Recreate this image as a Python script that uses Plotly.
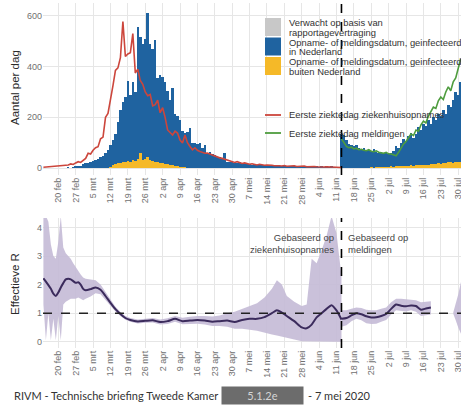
import pandas as pd
import plotly.graph_objects as go

# ---------------- data ----------------
tick_dates = ["2020-02-20", "2020-02-27", "2020-03-05", "2020-03-12", "2020-03-19", "2020-03-26",
              "2020-04-02", "2020-04-09", "2020-04-16", "2020-04-23", "2020-04-30", "2020-05-07",
              "2020-05-14", "2020-05-21", "2020-05-28", "2020-06-04", "2020-06-11", "2020-06-18",
              "2020-06-25", "2020-07-02", "2020-07-09", "2020-07-16", "2020-07-23", "2020-07-30"]
tick_labels = ["20 feb", "27 feb", "5 mrt", "12 mrt", "19 mrt", "26 mrt", "2 apr", "9 apr", "16 apr",
               "23 apr", "30 apr", "7 mei", "14 mei", "21 mei", "28 mei", "4 jun", "11 jun", "18 jun",
               "25 jun", "2 jul", "9 jul", "16 jul", "23 jul", "30 jul"]

split_date = "2020-06-13"
r_reference = 1

# daily bars, starting 24 feb
bar_start = "2020-02-24"
blue_feb = [2, 0, 3, 5, 4, 8]
blue_mrt = [15, 18, 20, 22, 28, 32, 35, 42, 48, 60, 70, 85, 100, 121, 162, 210, 238, 255, 317, 265,
            310, 272, 520, 457, 460, 475, 565, 458, 442, 480, 333]
blue_apr = [345, 342, 325, 291, 258, 305, 207, 199, 185, 141, 137, 140, 156, 99, 98, 95, 100, 80, 90, 60,
            62, 55, 52, 45, 42, 40, 58, 25, 24, 22]
blue_mei = [20, 18, 22, 16, 15, 18, 14, 12, 15, 11, 13, 10, 12, 9, 10, 8, 11, 8, 9, 7, 8, 6, 9, 6, 7, 5,
            6, 5, 7, 4, 5]
blue_jun = [4, 5, 4, 3, 5, 3, 4, 3, 4, 3, 3, 3, 135, 130, 110, 95, 90, 85, 92, 80, 75, 77, 70, 68, 65,
            72, 59, 56, 61, 54]
blue_jul = [57, 52, 54, 61, 78, 74, 92, 108, 96, 117, 130, 109, 124, 150, 138, 164, 152, 178, 160, 186,
            174, 197, 190, 210, 197, 228, 215, 250, 276, 268, 315]

yellow_feb = [0, 0, 0, 0, 0, 0]
yellow_mrt = [0, 0, 0, 0, 0, 0, 0, 0, 0, 0, 0, 5, 10, 14, 18, 20, 22, 25, 28, 25, 30, 28, 35, 58, 30,
              35, 45, 32, 28, 25, 22]
yellow_apr = [20, 18, 15, 14, 12, 10, 8, 6, 5, 4, 3, 2, 2, 1, 0, 0, 0, 0, 0, 0, 0, 0, 0, 0, 0, 0, 0,
              0, 0, 0]
yellow_mei = [0] * 31
yellow_jun = [0] * 21 + [1, 2, 2, 3, 2, 3, 4, 3, 4]
yellow_jul = [5, 4, 6, 5, 7, 6, 8, 7, 9, 8, 10, 9, 11, 10, 12, 11, 13, 12, 15, 14, 16, 18, 15, 20, 18,
              22, 25, 20, 24, 22, 25]

# first day of illness, hospital admissions (from 14 feb)
red_start = "2020-02-14"
red_feb = [3, 4, 5, 4, 6, 5, 7, 9, 8, 10, 12, 16, 14, 20, 25, 22]
red_mrt = [32, 38, 58, 55, 70, 80, 84, 115, 122, 200, 215, 265, 325, 385, 395, 435, 578, 440, 450, 455,
           530, 375, 390, 345, 330, 300, 285, 290, 245, 250, 268]
red_apr = [218, 238, 200, 150, 140, 130, 145, 138, 110, 99, 130, 100, 85, 72, 80, 70, 65, 62, 58, 59,
           55, 50, 48, 42, 40, 38, 35, 30, 28, 24]
red_mei = [22, 25, 20, 18, 20, 16, 15, 17, 14, 12, 15, 13, 11, 12, 10, 11, 9, 10, 9, 8, 10, 7, 8, 7, 9,
           6, 7, 6, 8, 5, 6]
red_jun = [5, 6, 5, 4, 5, 4, 5, 4, 3, 4, 3, 3, 2]

# first day of illness, notifications (from 13 jun)
green_start = "2020-06-13"
green_jun = [115, 100, 85, 80, 82, 75, 78, 72, 74, 70, 68, 72, 66, 64, 68, 62, 60, 58]
green_jul = [62, 56, 55, 50, 48, 62, 80, 95, 105, 120, 135, 128, 150, 145, 170, 185, 178, 205, 220, 240,
             235, 265, 280, 270, 300, 320, 305, 340, 355, 390, 430]

# effective R, based on hospital admissions
r1_dates = ["2020-02-14", "2020-02-15", "2020-02-16", "2020-02-17", "2020-02-18", "2020-02-19",
            "2020-02-20", "2020-02-21", "2020-02-22", "2020-02-23", "2020-02-24", "2020-02-25",
            "2020-02-26", "2020-02-27", "2020-02-28", "2020-02-29", "2020-03-01", "2020-03-02",
            "2020-03-04", "2020-03-06", "2020-03-08", "2020-03-10", "2020-03-12", "2020-03-14",
            "2020-03-16", "2020-03-18", "2020-03-20", "2020-03-23", "2020-03-26", "2020-03-29",
            "2020-04-01", "2020-04-04", "2020-04-07", "2020-04-10", "2020-04-13", "2020-04-16",
            "2020-04-19", "2020-04-22", "2020-04-25", "2020-04-28", "2020-05-01", "2020-05-04",
            "2020-05-07", "2020-05-10", "2020-05-13", "2020-05-16", "2020-05-18", "2020-05-20",
            "2020-05-22", "2020-05-25", "2020-05-28", "2020-05-30", "2020-06-01", "2020-06-03",
            "2020-06-05", "2020-06-07", "2020-06-09", "2020-06-11", "2020-06-13"]
r1_med = [2.22, 2.1, 1.98, 1.85, 1.68, 1.6, 1.72, 1.9, 2.05, 2.18, 2.2, 2.18, 2.12, 2.06, 2.08, 2.0,
          1.85, 1.8, 1.84, 1.9, 1.82, 1.6, 1.36, 1.14, 0.97, 0.83, 0.76, 0.71, 0.73, 0.75, 0.69, 0.72,
          0.8, 0.72, 0.74, 0.76, 0.74, 0.7, 0.72, 0.74, 0.69, 0.76, 0.8, 0.8, 0.86, 1.0, 1.1, 1.02, 0.9,
          0.72, 0.5, 0.47, 0.6, 0.85, 1.0, 1.15, 1.28, 1.1, 0.78]
r1_lo = [1.3, 0.05, 1.0, 0.05, 0.8, 0.05, 0.9, 0.05, 1.3, 1.4, 1.45, 1.5, 1.5, 1.5, 1.55, 1.5, 1.45,
         1.5, 1.58, 1.7, 1.66, 1.48, 1.26, 1.06, 0.9, 0.77, 0.7, 0.64, 0.66, 0.67, 0.6, 0.62, 0.7, 0.61,
         0.62, 0.63, 0.6, 0.55, 0.55, 0.52, 0.45, 0.45, 0.42, 0.38, 0.32, 0.25, 0.22, 0.18, 0.15, 0.08,
         0.02, 0.0, 0.0, 0.0, 0.0, 0.0, 0.0, 0.0, 0.0]
r1_hi = [4.4, 4.4, 4.2, 3.4, 3.0, 2.9, 3.5, 4.4, 3.3, 3.1, 3.0, 2.9, 2.75, 2.6, 2.5, 2.35, 2.25, 2.2,
         2.18, 2.15, 2.0, 1.74, 1.46, 1.22, 1.04, 0.9, 0.83, 0.78, 0.8, 0.83, 0.78, 0.82, 0.9, 0.84,
         0.87, 0.9, 0.9, 0.88, 0.92, 1.0, 1.05, 1.15, 1.25, 1.35, 1.55, 1.85, 2.15, 2.0, 1.6, 1.4, 1.25,
         1.3, 2.9, 2.75, 3.2, 3.7, 4.4, 3.8, 2.3]

# effective R, based on notifications
r2_dates = ["2020-06-13", "2020-06-15", "2020-06-17", "2020-06-19", "2020-06-21", "2020-06-23",
            "2020-06-25", "2020-06-27", "2020-06-29", "2020-07-01", "2020-07-03", "2020-07-05",
            "2020-07-07", "2020-07-09", "2020-07-11", "2020-07-13", "2020-07-15", "2020-07-17",
            "2020-07-19"]
r2_med = [0.8, 0.83, 0.92, 1.0, 0.96, 0.89, 0.85, 0.86, 0.9, 0.97, 1.15, 1.3, 1.26, 1.24, 1.27, 1.25,
          1.12, 1.16, 1.2]
r2_lo = [0.52, 0.58, 0.72, 0.8, 0.75, 0.65, 0.62, 0.63, 0.7, 0.76, 0.95, 1.1, 1.08, 1.06, 1.1, 1.05,
         0.9, 0.92, 0.95]
r2_hi = [1.1, 1.1, 1.15, 1.2, 1.18, 1.12, 1.1, 1.1, 1.15, 1.2, 1.38, 1.5, 1.5, 1.48, 1.48, 1.45, 1.38,
         1.4, 1.42]

# uncertainty band at the end of the period
r3_dates = ["2020-07-28", "2020-07-29", "2020-07-30", "2020-07-31", "2020-08-01"]
r3_lo = [0.98, 0.75, 0.5, 0.28, 0.1]
r3_hi = [1.02, 1.3, 1.65, 2.05, 2.4]

legend_box_labels = [["Verwacht op basis van", "rapportagevertraging"],
                     ["Opname- of meldingsdatum, geinfecteerd", "in Nederland"],
                     ["Opname- of meldingsdatum, geinfecteerd", "buiten Nederland"]]
legend_line_labels = ["Eerste ziektedag ziekenhuisopnames", "Eerste ziektedag meldingen"]

# ---------------- styling ----------------
W, H = 461, 405
FONT = "Liberation Sans, Arial, sans-serif"
BLUE = "#1f63a0"
YELLOW = "#f5b928"
GREY = "#c8c8c8"
RED = "#cc463c"
GREEN = "#4e9c3e"
BAND = "rgba(198,188,215,0.92)"
RLINE = "#3b2b5c"
GRID = "#e6e6e6"
TICK = "#707070"


def px(v):
    return v / W


def py(v):
    return 1 - v / H


blue = blue_feb + blue_mrt + blue_apr + blue_mei + blue_jun + blue_jul
yellow = yellow_feb + yellow_mrt + yellow_apr + yellow_mei + yellow_jun + yellow_jul
bar_dates = pd.date_range(bar_start, periods=len(blue))
red = red_feb + red_mrt + red_apr + red_mei + red_jun
red_dates = pd.date_range(red_start, periods=len(red))
green = green_jun + green_jul
green_dates = pd.date_range(green_start, periods=len(green))

DAY_MS = 86400000

fig = go.Figure()
fig.add_trace(go.Bar(x=bar_dates, y=yellow, width=DAY_MS, marker=dict(color=YELLOW, line=dict(width=0)),
                     name="buiten Nederland", showlegend=False, xaxis="x", yaxis="y"))
fig.add_trace(go.Bar(x=bar_dates, y=blue, width=DAY_MS, marker=dict(color=BLUE, line=dict(width=0)),
                     name="in Nederland", showlegend=False, xaxis="x", yaxis="y"))
fig.add_trace(go.Scatter(x=red_dates, y=red, mode="lines", line=dict(color=RED, width=1.6),
                         name=legend_line_labels[0], showlegend=False, xaxis="x", yaxis="y"))
fig.add_trace(go.Scatter(x=green_dates, y=green, mode="lines", line=dict(color=GREEN, width=1.6),
                         name=legend_line_labels[1], showlegend=False, xaxis="x", yaxis="y"))

# R panel bands
for d, lo, hi in [(r1_dates, r1_lo, r1_hi), (r2_dates, r2_lo, r2_hi), (r3_dates, r3_lo, r3_hi)]:
    fig.add_trace(go.Scatter(x=list(d) + list(d)[::-1], y=list(hi) + list(lo)[::-1], fill="toself",
                             fillcolor=BAND, line=dict(width=0), mode="lines", showlegend=False,
                             hoverinfo="skip", xaxis="x2", yaxis="y2"))
for d, m in [(r1_dates, r1_med), (r2_dates, r2_med)]:
    fig.add_trace(go.Scatter(x=d, y=m, mode="lines",
                             line=dict(color=RLINE, width=2, shape="spline", smoothing=0.6),
                             showlegend=False, xaxis="x2", yaxis="y2"))

xrange = ["2020-02-13 20:00", "2020-07-31 03:00"]
xcommon = dict(range=xrange, tickmode="array", tickvals=tick_dates, ticktext=tick_labels, tickangle=-90,
               tickfont=dict(size=9, color=TICK, family=FONT), showgrid=True, gridcolor=GRID, gridwidth=1,
               zeroline=False, showline=False, ticks="", domain=[px(43), 1.0], automargin=False,
               ticklabeloverflow="allow")

fig.update_layout(
    width=W, height=H, margin=dict(l=0, r=0, t=0, b=0),
    paper_bgcolor="white", plot_bgcolor="white",
    barmode="stack", bargap=0, showlegend=False,
    font=dict(family=FONT, color="#333"),
    xaxis=dict(**xcommon, anchor="y"),
    xaxis2=dict(**xcommon, anchor="y2"),
    yaxis=dict(domain=[py(175), py(3)], range=[-27.6, 651], tickvals=[0, 200, 400, 600],
               tickfont=dict(size=9, color=TICK), showgrid=True, gridcolor=GRID, zeroline=False,
               ticks="", automargin=False, anchor="x"),
    yaxis2=dict(domain=[py(348), py(218)], range=[-0.22, 4.33], tickvals=[0, 1, 2, 3, 4],
                tickfont=dict(size=9, color=TICK), showgrid=True, gridcolor=GRID, zeroline=False,
                ticks="", automargin=False, anchor="x2"),
)

# split lines and R = 1 reference
fig.add_shape(type="line", xref="x", yref="y domain", x0=split_date, x1=split_date, y0=0, y1=1,
              line=dict(color="black", width=1.6, dash="dash"))
fig.add_shape(type="line", xref="x2", yref="y2 domain", x0=split_date, x1=split_date, y0=0, y1=1,
              line=dict(color="black", width=1.6, dash="dash"))
fig.add_shape(type="line", xref="x2 domain", yref="y2", x0=0, x1=1, y0=r_reference, y1=r_reference,
              line=dict(color="#222", width=1.5, dash="dash"))

# legend (drawn as keys + text)
box_colors = [GREY, BLUE, YELLOW]
for i, (lines, col) in enumerate(zip(legend_box_labels, box_colors)):
    top = 18 + i * 19.5
    fig.add_shape(type="rect", xref="paper", yref="paper", x0=px(265), x1=px(281), y0=py(top + 18),
                  y1=py(top), fillcolor=col, line=dict(width=0), layer="above")
    for j, t in enumerate(lines):
        fig.add_annotation(text=t, xref="paper", yref="paper", x=px(287), y=py(top + 4.5 + j * 9.7),
                           xanchor="left", yanchor="middle", showarrow=False,
                           font=dict(size=9.4, color="#333", family=FONT))
for i, (t, col) in enumerate(zip(legend_line_labels, [RED, GREEN])):
    yy = 115 + i * 18
    fig.add_shape(type="line", xref="paper", yref="paper", x0=px(265), x1=px(281), y0=py(yy), y1=py(yy),
                  line=dict(color=col, width=1.8), layer="above")
    fig.add_annotation(text=t, xref="paper", yref="paper", x=px(287), y=py(yy), xanchor="left",
                       yanchor="middle", showarrow=False, font=dict(size=9.4, color="#333", family=FONT))

# axis titles
fig.add_annotation(text="Aantal per dag", xref="paper", yref="paper", x=px(15), y=py(88),
                   xanchor="center", yanchor="middle", textangle=-90, showarrow=False,
                   font=dict(size=11.5, color="#2a2a2a", family=FONT))
fig.add_annotation(text="Effectieve R", xref="paper", yref="paper", x=px(15), y=py(284),
                   xanchor="center", yanchor="middle", textangle=-90, showarrow=False,
                   font=dict(size=11.5, color="#2a2a2a", family=FONT))

# panel labels
fig.add_annotation(text="Gebaseerd op<br>ziekenhuisopnames", xref="x2", yref="y2", x=split_date, y=3.45,
                   xanchor="right", yanchor="middle", align="right", xshift=-5, showarrow=False,
                   font=dict(size=9.5, color="#444", family=FONT))
fig.add_annotation(text="Gebaseerd op<br>meldingen", xref="x2", yref="y2", x=split_date, y=3.45,
                   xanchor="left", yanchor="middle", align="left", xshift=5, showarrow=False,
                   font=dict(size=9.5, color="#444", family=FONT))

# footer
fig.add_annotation(text="RIVM - Technische briefing Tweede Kamer", xref="paper", yref="paper",
                   x=px(12), y=py(395), xanchor="left", yanchor="middle", showarrow=False,
                   font=dict(size=11, color="#333", family="Lato, sans-serif"))
fig.add_annotation(text="5.1.2e", xref="paper", yref="paper", x=px(262), y=py(395),
                   xanchor="center", yanchor="middle", showarrow=False, width=79, height=15,
                   bgcolor="#6c6c6c", font=dict(size=11, color="#d6d6d6", family="Lato, sans-serif"))
fig.add_annotation(text="- 7 mei 2020", xref="paper", yref="paper", x=px(306), y=py(395),
                   xanchor="left", yanchor="middle", showarrow=False,
                   font=dict(size=11, color="#333", family="Lato, sans-serif"))

fig.write_html("out.html", config={"displayModeBar": False},
               post_script="document.body.style.margin='0px';")
